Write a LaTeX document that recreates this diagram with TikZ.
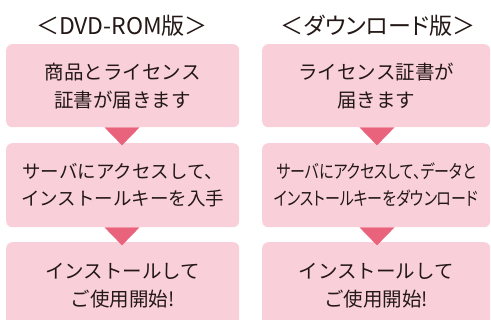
\documentclass[tikz,border=0pt]{standalone}
\usepackage{fontspec}
\setmainfont{Noto Sans CJK JP}
\usepackage{graphicx}
\definecolor{boxpink}{HTML}{F9D0DA}
\definecolor{arrowpink}{HTML}{E9637D}
\definecolor{ink}{HTML}{231815}
\tikzset{
  stepbox/.style={fill=boxpink, rounded corners=6pt, anchor=north west, align=center, text=ink, inner sep=0pt},
  leftbox/.style={stepbox, minimum width=233pt},
  rightbox/.style={stepbox, minimum width=228pt},
  titletext/.style={text=ink, font=\fontsize{23}{26}\selectfont, inner sep=0pt},
  boxfont/.style={font=\fontsize{19.5}{28}\selectfont},
  tri/.style={fill=arrowpink}
}
\newcommand{\downtri}[1]{\fill[tri] ([xshift=-17.5pt]#1) -- ([xshift=17.5pt]#1) -- ([yshift=-18pt]#1) -- cycle;}
\newcommand{\narrowline}[1]{\scalebox{0.81}[1]{\addfontfeatures{RawFeature=+palt}#1}}
\begin{document}
\begin{tikzpicture}[x=1pt,y=-1pt]
\useasboundingbox (0,0) rectangle (491,320);
\clip (0,0) rectangle (491,320);
% titles
\node[titletext] (tl) at (122,26) {＜DVD-ROM版＞};
\node[titletext] (tr) at (378,26) {\addfontfeatures{RawFeature=+palt}＜ダウンロード版＞};
% left column
\node[leftbox, boxfont, minimum height=83pt] (l1) at (6,44) {商品とライセンス\\証書が届きます};
\node[leftbox, font=\fontsize{18.5}{27}\selectfont, minimum height=84pt] (l2) at (6,143) {サーバにアクセスして、\\インストールキーを入手};
\node[leftbox, boxfont, minimum height=86pt] (l3) at (6,242) {インストールして\\ご使用開始!};
% right column
\node[rightbox, boxfont, minimum height=83pt] (r1) at (262,44) {ライセンス証書が\\届きます};
\node[rightbox, font=\fontsize{18.5}{27}\selectfont, minimum height=84pt] (r2) at (262,143) {\narrowline{サーバにアクセスして、データと}\\\narrowline{インストールキーをダウンロード}};
\node[rightbox, boxfont, minimum height=86pt] (r3) at (262,242) {インストールして\\ご使用開始!};
% connectors
\coordinate (xl) at (122,0);
\coordinate (xr) at (377,0);
\coordinate (a1) at (l1.south -| xl);
\coordinate (a2) at (l2.south -| xl);
\coordinate (b1) at (r1.south -| xr);
\coordinate (b2) at (r2.south -| xr);
\downtri{a1}
\downtri{a2}
\downtri{b1}
\downtri{b2}
\end{tikzpicture}
\end{document}
